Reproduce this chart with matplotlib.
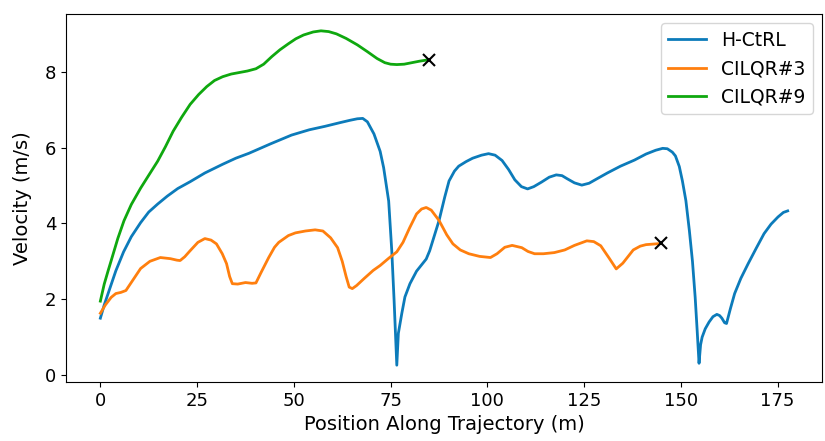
import numpy as np
from matplotlib import pyplot as plt

# H-CtRL velocity profile
hctrl_pos = [0, 1, 2, 3, 4, 6, 8, 10.4, 12.5, 14.8, 17.3, 20, 23.2, 27, 31.6, 35,
             38.4, 44, 49.4, 54, 58, 62, 64.5, 66.4, 67.8, 69.0, 70.7, 72.3, 73.2,
             74.5, 75.3, 75.9, 76.6, 77.0, 77.9, 78.7, 80.0, 81.7, 84.2, 85.1,
             87.5, 89, 90.1, 91.5, 92.6, 94.5, 96.2, 98.5, 100.3, 102, 103.8,
             105.5, 107.1, 108.8, 110.4, 112, 114, 116, 117.8, 119.3, 120.6,
             122.5, 124.4, 126.3, 128.2, 131, 134.4, 138, 141, 143.5, 145.3,
             146.5, 147.8, 148.6, 149.6, 150.4, 151.3, 152.2, 153.0, 153.7,
             154.2, 154.7, 155.1, 155.5, 156.3, 157.3, 158.3, 159.3, 160, 160.6,
             161.3, 161.8, 162.8, 163.9, 165.5, 167.4, 169.5, 171.5, 173.3,
             175.1, 176.5, 177.6]
hctrl_vel = [1.50, 1.85, 2.15, 2.45, 2.75, 3.25, 3.65, 4.02, 4.30, 4.51, 4.72, 4.92,
             5.10, 5.33, 5.56, 5.72, 5.85, 6.10, 6.33, 6.47, 6.56, 6.66, 6.72, 6.76,
             6.77, 6.68, 6.36, 5.90, 5.47, 4.59, 3.28, 1.97, 0.26, 1.10, 1.63, 2.06,
             2.41, 2.74, 3.06, 3.28, 4.07, 4.70, 5.12, 5.38, 5.51, 5.63, 5.72, 5.80,
             5.84, 5.80, 5.66, 5.42, 5.15, 4.97, 4.91, 4.97, 5.09, 5.22, 5.28, 5.26,
             5.18, 5.07, 5.01, 5.06, 5.17, 5.33, 5.51, 5.67, 5.83, 5.93, 5.98, 5.97,
             5.88, 5.78, 5.50, 5.12, 4.60, 3.81, 3.00, 2.05, 1.20, 0.31, 0.80, 1.00,
             1.22, 1.40, 1.54, 1.60, 1.57, 1.50, 1.38, 1.36, 1.75, 2.15, 2.55, 2.94,
             3.35, 3.73, 3.98, 4.17, 4.29, 4.33]

# CILQR#3
cilqr3_pos = [0, 1.3, 2.8, 4, 5.3, 6.6, 8.5, 10.4, 12.8, 15.5, 18.1, 19.8, 20.6,
              21.8, 23.2, 25.2, 27.0, 28.6, 30.0, 31.5, 32.6, 33.4, 34.1, 35.5,
              37.5, 39.2, 40.2, 41.5, 43.5, 45, 46.1, 48.6, 50.4, 53, 55.5, 57.5,
              59.5, 61.3, 62.5, 63.5, 64.3, 65.1, 66.2, 68.2, 70.5, 72.3, 74.5,
              76.6, 78.2, 79.9, 81.7, 83, 84.2, 85.5, 87.5, 89.5, 91.1, 93, 95.2,
              98, 100.8, 102.5, 104.5, 106.4, 108.9, 110.5, 112.2, 114.5, 117.3,
              120, 122.5, 125.7, 127.5, 129.3, 131.5, 133.3, 135, 137.7, 139.5,
              141, 144.8]
cilqr3_vel = [1.63, 1.85, 2.05, 2.15, 2.18, 2.23, 2.52, 2.81, 3.00, 3.10, 3.07, 3.03,
              3.02, 3.12, 3.28, 3.50, 3.60, 3.56, 3.46, 3.20, 2.94, 2.60, 2.41, 2.40,
              2.44, 2.42, 2.43, 2.70, 3.10, 3.37, 3.50, 3.68, 3.75, 3.80, 3.83, 3.80,
              3.62, 3.36, 3.00, 2.60, 2.32, 2.28, 2.36, 2.55, 2.76, 2.89, 3.08, 3.25,
              3.50, 3.88, 4.25, 4.38, 4.42, 4.35, 4.08, 3.70, 3.46, 3.30, 3.20, 3.13,
              3.10, 3.20, 3.37, 3.42, 3.36, 3.26, 3.20, 3.20, 3.23, 3.30, 3.42, 3.54,
              3.52, 3.41, 3.08, 2.80, 2.95, 3.30, 3.40, 3.44, 3.47]

# CILQR#9
cilqr9_pos = [0, 1, 2, 2.8, 4.5, 6.1, 8, 10.4, 12.5, 14.8, 16.8, 18.8, 21, 23.2,
              25.4, 27.5, 29.5, 31.6, 33.8, 35.9, 38, 40.2, 42.2, 44.3, 46.4, 48.6,
              50.5, 52.5, 55, 57, 59, 61, 63.5, 66.4, 69, 71.5, 73.5, 75, 76.6,
              78.5, 80, 82.5, 85]
cilqr9_vel = [1.95, 2.40, 2.75, 3.02, 3.60, 4.07, 4.50, 4.93, 5.27, 5.64, 6.02, 6.43,
              6.80, 7.14, 7.40, 7.61, 7.77, 7.87, 7.94, 7.98, 8.02, 8.08, 8.20, 8.40,
              8.58, 8.74, 8.87, 8.97, 9.05, 9.08, 9.06, 9.00, 8.88, 8.71, 8.53, 8.35,
              8.24, 8.20, 8.19, 8.20, 8.23, 8.28, 8.32]

colors = {"H-CtRL": "#0C7BBA", "CILQR#3": "#FF7F0E", "CILQR#9": "#0FA80F"}


def main():
    plt.rcParams['font.size'] = 13
    fig = plt.figure(figsize=(8.25, 4.41), dpi=100)
    ax = fig.add_axes([0.08, 0.134, 0.9164, 0.834])

    ax.plot(hctrl_pos, hctrl_vel, color=colors["H-CtRL"], lw=2,
            solid_joinstyle='round', label="H-CtRL")
    ax.plot(cilqr3_pos, cilqr3_vel, color=colors["CILQR#3"], lw=2,
            solid_joinstyle='round', label="CILQR#3")
    ax.plot(cilqr9_pos, cilqr9_vel, color=colors["CILQR#9"], lw=2,
            solid_joinstyle='round', label="CILQR#9")

    # crash markers at the end of the CILQR runs
    ax.plot(cilqr3_pos[-1], cilqr3_vel[-1], 'kx', ms=9, mew=1.5)
    ax.plot(cilqr9_pos[-1], cilqr9_vel[-1], 'kx', ms=9, mew=1.5)

    ax.set_xticks(np.arange(0, 176, 25))
    ax.set_yticks([0, 2, 4, 6, 8])
    ax.set_xlabel("Position Along Trajectory (m)", fontsize=14)
    ax.set_ylabel("Velocity (m/s)", fontsize=14, labelpad=9)
    ax.legend(loc="upper right", fontsize=13.5)

    fig.savefig("out.png")


if __name__ == "__main__":
    main()
